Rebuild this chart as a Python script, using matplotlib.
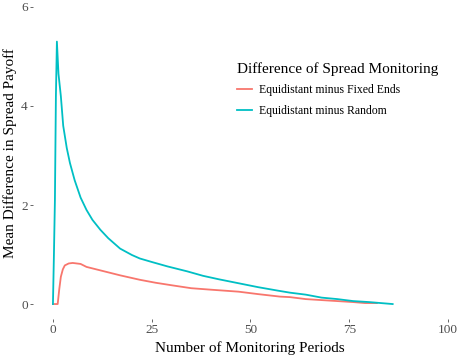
import matplotlib
matplotlib.use("Agg")
import matplotlib.pyplot as plt

# Data
x_random = [0, 0.25, 0.5, 0.75, 1, 1.4, 2, 2.6, 3.5, 4.3, 5.5, 7, 8.5, 10, 12, 14, 17, 20, 22, 25,
            29, 34, 38, 42, 47, 52, 57, 60, 64, 68, 72, 76, 80, 83, 86]
y_random = [0, 1.0, 2.1, 4.2, 5.3, 4.65, 4.2, 3.6, 3.15, 2.85, 2.5, 2.15, 1.9, 1.7, 1.5, 1.33, 1.12, 0.99, 0.92, 0.85,
            0.76, 0.66, 0.57, 0.5, 0.42, 0.34, 0.27, 0.23, 0.19, 0.13, 0.1, 0.06, 0.04, 0.02, 0.0]

x_fixed = [0, 1.2, 1.6, 2, 2.5, 3, 4, 5, 6, 7, 8.5, 10, 13.5, 17, 22, 26, 30, 35, 40, 47, 52,
           57.5, 60, 64, 68, 72, 76, 79, 82]
y_fixed = [0, 0, 0.3, 0.55, 0.7, 0.78, 0.82, 0.83, 0.82, 0.81, 0.75, 0.72, 0.65, 0.58, 0.49, 0.43,
           0.38, 0.32, 0.29, 0.25, 0.2, 0.15, 0.14, 0.1, 0.08, 0.06, 0.04, 0.02, 0.02]

series_labels = ["Equidistant minus Fixed Ends", "Equidistant minus Random"]
colors = ["#F8766D", "#00BFC4"]
x_ticks = [0, 25, 50, 75, 100]
y_ticks = [0, 2, 4, 6]

plt.rcParams['font.family'] = ['Liberation Serif', 'DejaVu Serif']

fig = plt.figure(figsize=(4.61, 3.57), dpi=100)
ax = fig.add_axes([0.072, 0.1067, 0.928, 0.8933])

ax.plot(x_fixed, y_fixed, color=colors[0], lw=1.3, label=series_labels[0])
ax.plot(x_random, y_random, color=colors[1], lw=1.3, label=series_labels[1])

ax.set_xlim(-5, 103.3)
ax.set_ylim(-0.3, 6.14)
ax.set_xticks(x_ticks)
ax.set_yticks(y_ticks)
for s in ax.spines.values():
    s.set_visible(False)
ax.tick_params(axis='both', colors='#4D4D4D', labelcolor='#4D4D4D', labelsize=9.5,
               length=2.5, width=0.6, pad=1.5)
ax.set_xlabel("Number of Monitoring Periods", fontsize=11, color='black')
ax.set_ylabel("Mean Difference in Spread Payoff", fontsize=11, color='black')
ax.xaxis.set_label_coords((250 - 33.2) / 427.8, -(348 - 319) / 319)
ax.yaxis.set_label_coords((10 - 33.2) / 427.8, (319 - 153) / 319)
ax.yaxis.label.set_va('center')
ax.xaxis.label.set_va('center')

leg = ax.legend(loc='upper left', bbox_to_anchor=(232/461, 1 - 57/357), bbox_transform=fig.transFigure,
                frameon=False, title="Difference of Spread Monitoring", title_fontsize=11,
                fontsize=8.5, handlelength=1.3, handletextpad=0.6, labelspacing=0.75,
                borderaxespad=0)
leg._legend_box.align = "left"

fig.savefig("out.png", dpi=100)
